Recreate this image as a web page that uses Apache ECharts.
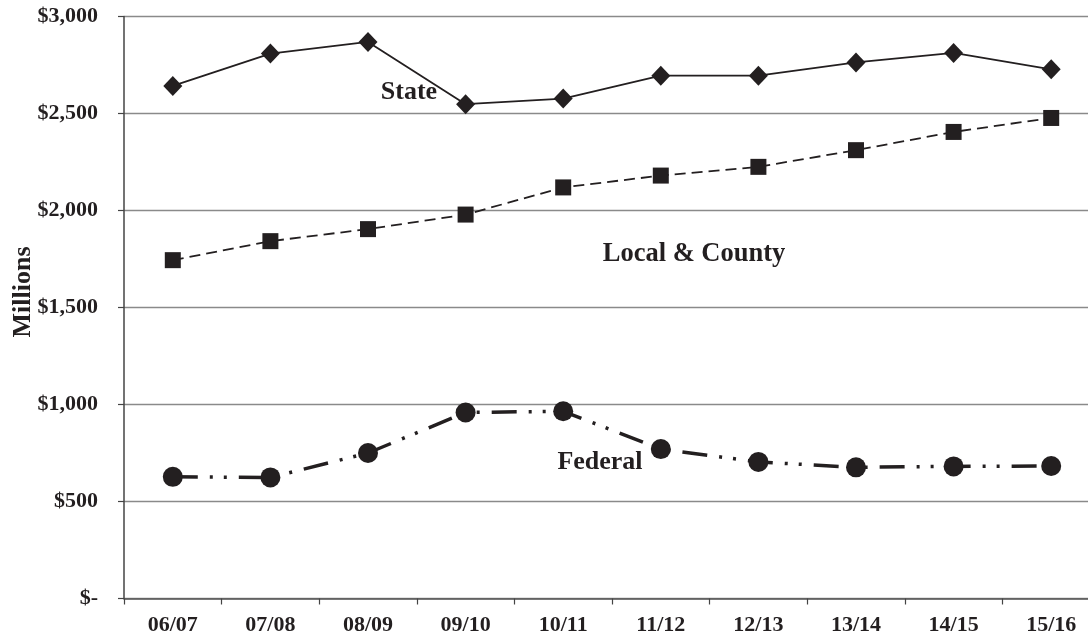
<!DOCTYPE html>
<html>
<head>
<meta charset="utf-8">
<script src="https://cdn.jsdelivr.net/npm/echarts@6/dist/echarts.min.js"></script>
<style>
  html, body { margin: 0; padding: 0; background: #fff; overflow: hidden; }
  /* plot runs slightly past the right edge of the page */
  #chart { width: 1100px; height: 638px; }
</style>
</head>
<body>
<div id="chart"></div>
<script>
// Fiscal years
const years = ['06/07', '07/08', '08/09', '09/10', '10/11', '11/12', '12/13', '13/14', '14/15', '15/16'];

// Funding by source, $ millions
const stateFunds   = [2642, 2809, 2869, 2548, 2577, 2695, 2695, 2763, 2812, 2728];
const localFunds   = [1744, 1842, 1904, 1979, 2119, 2180, 2225, 2311, 2405, 2477];
const federalFunds = [627, 624, 750, 959, 965, 770, 704, 676, 681, 683];

// Value axis ticks
const yTicks = [0, 500, 1000, 1500, 2000, 2500, 3000];

const INK = '#231f20';
const FONT = '"Liberation Serif", "Times New Roman", serif';

function money(v) {
  if (v === 0) return '$-';
  return '$' + v.toLocaleString('en-US');
}

const chart = echarts.init(document.getElementById('chart'), null, { renderer: 'canvas' });

chart.setOption({
  backgroundColor: '#ffffff',
  animation: false,
  grid: { left: 124, top: 16.5, right: 0, height: 582, containLabel: false },
  xAxis: {
    type: 'category',
    data: years,
    boundaryGap: true,
    axisLine: { show: true, lineStyle: { color: '#555', width: 1.5 } },
    axisTick: { show: true, length: 6, inside: false, lineStyle: { color: '#444', width: 1.2 } },
    axisLabel: {
      margin: 16,
      color: INK,
      fontFamily: FONT,
      fontWeight: 'bold',
      fontSize: 22
    },
    splitLine: { show: false }
  },
  yAxis: {
    type: 'value',
    min: yTicks[0],
    max: yTicks[yTicks.length - 1],
    interval: 500,
    axisLine: { show: true, lineStyle: { color: '#444', width: 1.5 } },
    axisTick: { show: true, length: 6, lineStyle: { color: '#444', width: 1.2 } },
    axisLabel: {
      margin: 26,
      color: INK,
      fontFamily: FONT,
      fontWeight: 'bold',
      fontSize: 22,
      formatter: money
    },
    splitLine: { show: true, lineStyle: { color: '#8a8a8a', width: 1.3 } }
  },
  series: [
    {
      name: 'State',
      type: 'line',
      data: stateFunds,
      symbol: 'diamond',
      symbolSize: [19, 20],
      itemStyle: { color: INK },
      lineStyle: { color: INK, width: 1.8, type: 'solid' },
      z: 3
    },
    {
      name: 'Local & County',
      type: 'line',
      data: localFunds,
      symbol: 'rect',
      symbolSize: 16,
      itemStyle: { color: INK },
      lineStyle: { color: INK, width: 1.8, type: [11, 6] },
      z: 3
    },
    {
      name: 'Federal',
      type: 'line',
      data: federalFunds,
      symbol: 'circle',
      symbolSize: 20,
      itemStyle: { color: INK },
      lineStyle: { color: INK, width: 3.5, type: [25, 12, 3, 11, 3, 12], cap: 'butt' },
      z: 3
    }
  ],
  graphic: [
    {
      type: 'text',
      rotation: Math.PI / 2,
      x: 23, y: 292,
      style: {
        text: 'Millions',
        fill: INK,
        font: 'bold 26px ' + FONT,
        align: 'center',
        verticalAlign: 'middle'
      }
    },
    {
      type: 'text', x: 409, y: 92,
      style: { text: 'State', fill: INK, font: 'bold 26px ' + FONT, align: 'center', verticalAlign: 'middle' }
    },
    {
      type: 'text', x: 694, y: 254,
      style: { text: 'Local & County', fill: INK, font: 'bold 26.5px ' + FONT, align: 'center', verticalAlign: 'middle' }
    },
    {
      type: 'text', x: 600, y: 462,
      style: { text: 'Federal', fill: INK, font: 'bold 26px ' + FONT, align: 'center', verticalAlign: 'middle' }
    }
  ]
});
</script>
</body>
</html>
